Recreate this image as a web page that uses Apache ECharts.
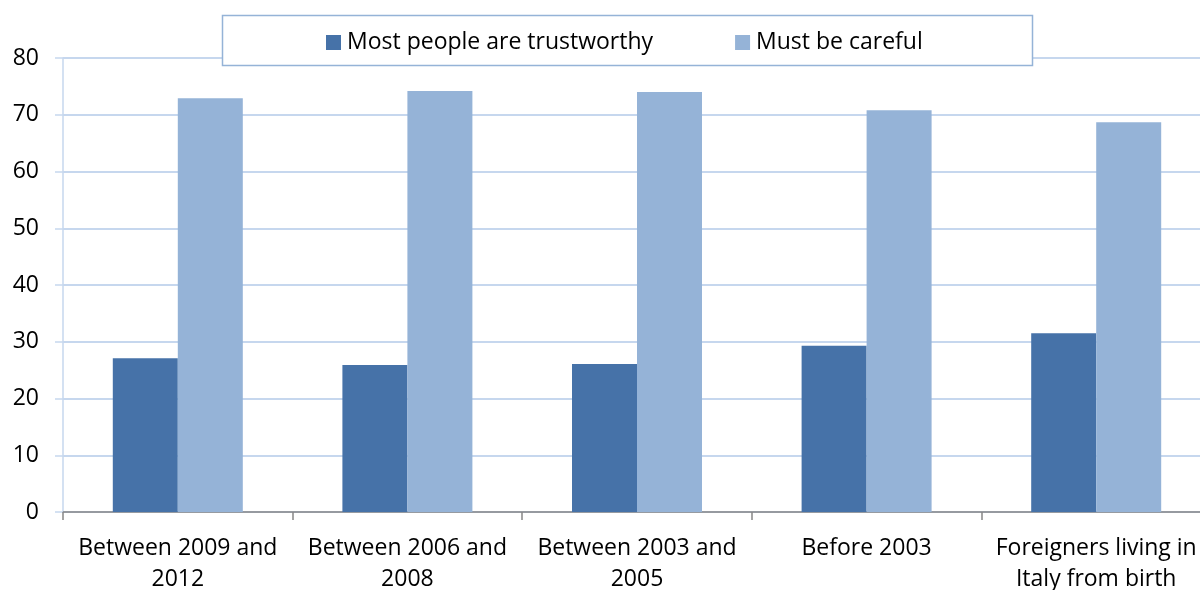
<!DOCTYPE html>
<html>
<head>
<meta charset="utf-8">
<script src="https://cdn.jsdelivr.net/npm/echarts@6/dist/echarts.min.js"></script>
<style>html,body{margin:0;padding:0;background:#fff;overflow:hidden;width:1200px;height:590px;}#c{width:1211px;height:590px;}</style>
</head>
<body>
<div id="c"></div>
<script>
const categories = ["Between 2009 and\n2012", "Between 2006 and\n2008", "Between 2003 and\n2005", "Before 2003", "Foreigners living in\nItaly from birth"];
const trustworthy = [27.1, 25.9, 26.1, 29.3, 31.5];
const careful = [72.9, 74.2, 74.0, 70.8, 68.7];
const yTicks = [0, 10, 20, 30, 40, 50, 60, 70, 80];

const FONT = '"Open Sans", sans-serif';
const chart = echarts.init(document.getElementById('c'), null, {renderer: 'canvas'});
chart.setOption({
  animation: false,
  backgroundColor: '#fff',
  graphic: [{
    type: 'rect', shape: {x: 222.5, y: 15.5, width: 810, height: 50},
    style: {fill: '#fff', stroke: '#95b3d7', lineWidth: 1.5}, z: 1
  }],
  legend: {
    left: 321, top: 26, itemWidth: 15, itemHeight: 15, itemGap: 82,
    icon: 'rect', z: 5,
    textStyle: {fontFamily: FONT, fontSize: 23, color: '#000', padding: [0, 0, 0, 1]},
    data: ['Most people are trustworthy', 'Must be careful']
  },
  grid: {left: 63, top: 58, right: 0, height: 454, containLabel: false, outerBoundsMode: 'none'},
  xAxis: {
    type: 'category', data: categories,
    axisLine: {show: true, lineStyle: {color: '#868686', width: 1.5}},
    axisTick: {show: true, length: 8, lineStyle: {color: '#868686', width: 1.5}},
    axisLabel: {fontFamily: FONT, fontSize: 23, color: '#000', margin: 21, lineHeight: 31, interval: 0},
    splitLine: {show: false}
  },
  yAxis: {
    type: 'value', min: yTicks[0], max: yTicks[yTicks.length - 1], interval: 10,
    axisLine: {show: true, lineStyle: {color: '#c6d7ee', width: 1.5}},
    axisTick: {show: true, length: 8, lineStyle: {color: '#c6d7ee', width: 1.5}},
    axisLabel: {fontFamily: FONT, fontSize: 23, color: '#000', margin: 24},
    splitLine: {show: true, lineStyle: {color: '#c6d7ee', width: 2}}
  },
  series: [
    {name: 'Most people are trustworthy', type: 'bar', data: trustworthy, barWidth: 65, barGap: '0%',
     itemStyle: {color: '#4672a8'}},
    {name: 'Must be careful', type: 'bar', data: careful, barWidth: 65,
     itemStyle: {color: '#95b3d7'}}
  ]
});
</script>
</body>
</html>
